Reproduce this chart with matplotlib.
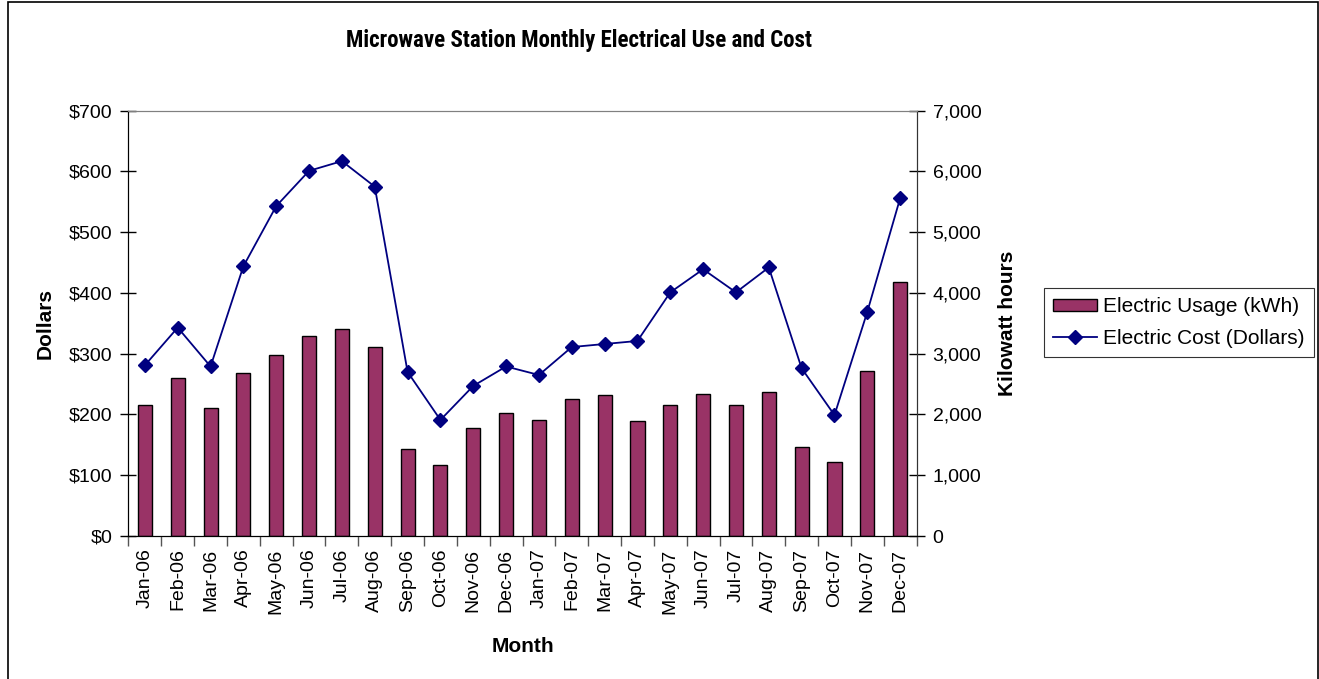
import matplotlib
matplotlib.use("Agg")
import matplotlib.pyplot as plt
from matplotlib import font_manager
from matplotlib.patches import Rectangle
from matplotlib.ticker import FuncFormatter, MultipleLocator

plt.rcParams['font.family'] = ['Liberation Sans', 'DejaVu Sans']

# Data
months = ["Jan-06", "Feb-06", "Mar-06", "Apr-06", "May-06", "Jun-06",
          "Jul-06", "Aug-06", "Sep-06", "Oct-06", "Nov-06", "Dec-06",
          "Jan-07", "Feb-07", "Mar-07", "Apr-07", "May-07", "Jun-07",
          "Jul-07", "Aug-07", "Sep-07", "Oct-07", "Nov-07", "Dec-07"]
usage_kwh = [2155, 2605, 2100, 2690, 2980, 3295, 3400, 3110, 1430, 1165,
             1775, 2020, 1915, 2260, 2315, 1885, 2155, 2340, 2155, 2365,
             1460, 1225, 2715, 4175]
cost_dollars = [281, 343, 279, 444, 543, 601, 617, 575, 270, 191, 247, 279,
                265, 311, 316, 321, 401, 439, 401, 442, 276, 199, 369, 556]

# the title in the reference is a narrow bold face; use one if installed
names = {f.name for f in font_manager.fontManager.ttflist}
title_font, title_size = "Liberation Sans", 14.5
for cand in ["Liberation Sans Narrow", "DejaVu Sans Condensed",
             "Roboto Condensed", "Open Sans Condensed"]:
    if cand in names:
        title_font, title_size = cand, 16.5
        break

fig = plt.figure(figsize=(13.19, 6.79), dpi=100)
ax = fig.add_axes([0.0974, 0.2106, 0.5975, 0.6264])
ax2 = ax.twinx()

x = list(range(len(months)))

# bars on kWh axis (right), line on dollar axis (left)
bars = ax2.bar(x, usage_kwh, width=0.43, color="#993366", edgecolor="black",
               linewidth=1.0, label="Electric Usage (kWh)")
ax.set_zorder(ax2.get_zorder() + 1)
ax.patch.set_visible(False)
line, = ax.plot(x, cost_dollars, color="#000080", linewidth=1.3, marker="D",
                markersize=7, label="Electric Cost (Dollars)")

ax.set_xlim(-0.5, len(months) - 0.5)
ax.set_ylim(0, 700)
ax2.set_ylim(0, 7000)

ax.yaxis.set_major_locator(MultipleLocator(100))
ax2.yaxis.set_major_locator(MultipleLocator(1000))
ax.yaxis.set_major_formatter(FuncFormatter(lambda v, p: f"${v:,.0f}"))
ax2.yaxis.set_major_formatter(FuncFormatter(lambda v, p: f"{v:,.0f}"))

# category tick marks sit between categories
ax.set_xticks([i - 0.5 for i in range(len(months) + 1)])
ax.set_xticklabels([])
ax.set_xticks(x, minor=True)
ax.set_xticklabels(months, minor=True, rotation=90, fontsize=14)
ax.tick_params(axis="x", which="major", direction="out", length=7, width=1,
               color="#555555")
ax.tick_params(axis="x", which="minor", length=0, pad=9)

ax.tick_params(axis="y", direction="inout", length=11, width=1, labelsize=14,
               pad=6)
ax2.tick_params(axis="y", direction="inout", length=11, width=1, labelsize=14,
                pad=6)

for a in (ax, ax2):
    a.spines["top"].set_color("#808080")
    a.spines["left"].set_color("black")
    a.spines["right"].set_color("#333333")
    a.spines["bottom"].set_color("black")

ax.set_ylabel("Dollars", fontsize=15, fontweight="bold", labelpad=10)
ax2.set_ylabel("Kilowatt hours", fontsize=15, fontweight="bold", labelpad=12)
ax.set_xlabel("Month", fontsize=15, fontweight="bold", labelpad=17)

fig.text(579 / 1319, 1 - 41 / 679,
         "Microwave Station Monthly Electrical Use and Cost",
         ha="center", va="center", fontsize=title_size, fontweight="bold",
         family=[title_font, "DejaVu Sans"])

leg = fig.legend([bars, line], ["Electric Usage (kWh)", "Electric Cost (Dollars)"],
                 loc="upper left", bbox_to_anchor=(1044 / 1319, 1 - 288 / 679),
                 fontsize=15, frameon=True, fancybox=False, edgecolor="black",
                 borderpad=0.45, handlelength=2.1, handleheight=0.5,
                 handletextpad=0.3, labelspacing=0.6, borderaxespad=0)
leg.get_frame().set_linewidth(0.8)

# chart-area border
fig.patches.append(Rectangle((8 / 1319, -0.01), (1318 - 8) / 1319, 1.01 - 2 / 679,
                             transform=fig.transFigure, fill=False,
                             edgecolor="black", linewidth=1.2))

fig.savefig("out.png", dpi=100)
